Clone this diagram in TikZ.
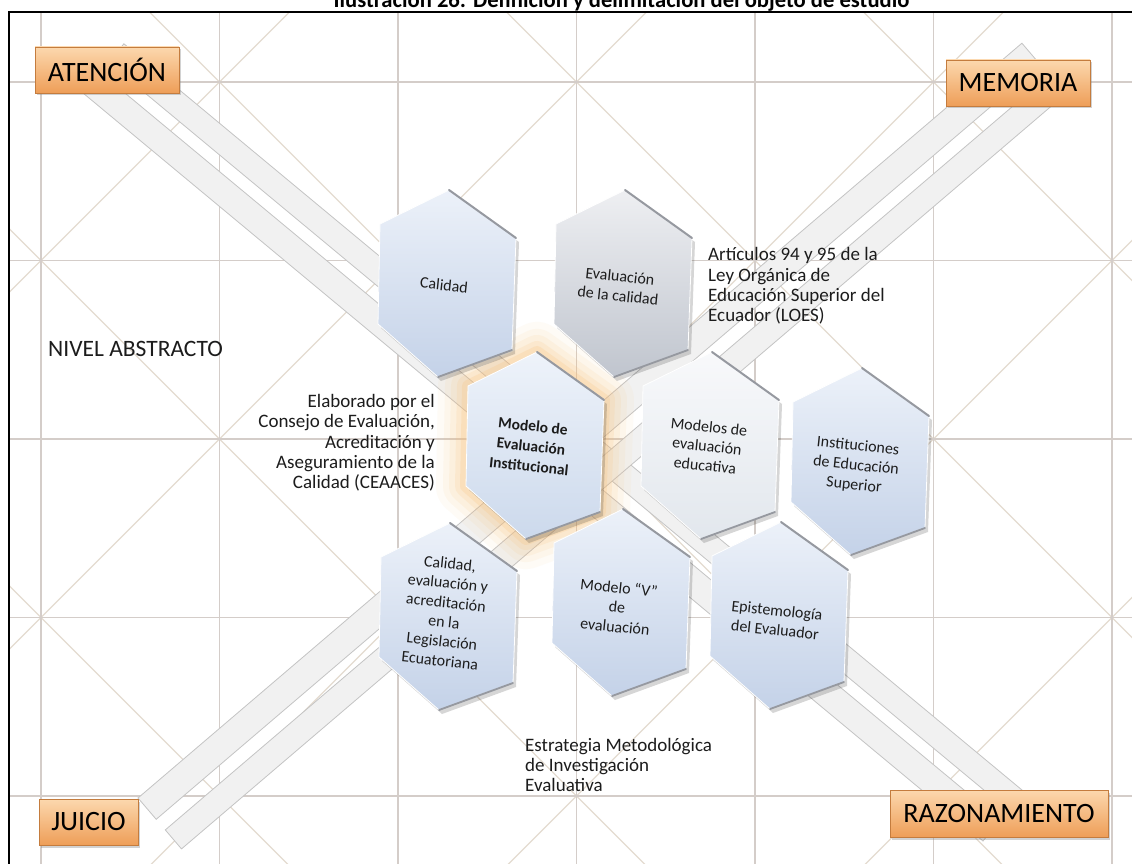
\documentclass[tikz,border=0pt]{standalone}
\usepackage{fontspec}
\newfontfamily\carl{Carlito}
\usetikzlibrary{shadows}
\definecolor{gridc}{RGB}{212,205,201}
\definecolor{diagc}{RGB}{228,219,208}
\definecolor{bandf}{RGB}{241,241,241}
\definecolor{bandd}{RGB}{196,196,196}
\definecolor{labtop}{RGB}{252,216,174}
\definecolor{labbot}{RGB}{238,158,88}
\definecolor{labdraw}{RGB}{196,124,62}
\definecolor{hbtop}{RGB}{236,241,249}
\definecolor{hbbot}{RGB}{196,210,232}
\definecolor{hctop}{RGB}{238,243,250}
\definecolor{hcbot}{RGB}{204,217,236}
\definecolor{hgtop}{RGB}{238,239,242}
\definecolor{hgbot}{RGB}{192,197,206}
\definecolor{hwtop}{RGB}{248,249,251}
\definecolor{hwbot}{RGB}{226,231,237}
\definecolor{hedge}{RGB}{150,153,160}
\definecolor{glowc}{RGB}{250,190,115}
\definecolor{ink}{RGB}{28,28,28}
\newcommand\hexa[3]{%
\begin{scope}[shift={(#1)}]
\fill[black,opacity=0.16] (6,-90)--(73,-42)--(69,70)--(-5,97)--(-65,44)--(-63,-56)--cycle;
\shade[top color=#2,bottom color=#3] (3,-94)--(70,-46)--(66,66)--(-8,93)--(-68,40)--(-66,-60)--cycle;
\draw[white,line width=0.8pt] (-8,93)--(-68,40)--(-66,-60)--(3,-94) (70,-46)--(66,66);
\draw[hedge,line width=2pt,line cap=round] (3,-94)--(70,-46);
\draw[hedge,line width=1.8pt,line cap=round] (66,66)--(-8,93);
\end{scope}}
\begin{document}
\begin{tikzpicture}[x=1pt,y=-1pt,
 gridl/.style={draw=gridc,line width=1.8pt},
 diagl/.style={draw=diagc,line width=1.3pt},
 bandstrip/.style={fill=bandf,draw=bandd,line width=0.8pt,line join=miter},
 lab/.style={draw=labdraw,line width=0.8pt,top color=labtop,bottom color=labbot,
   drop shadow={opacity=0.35,shadow xshift=2pt,shadow yshift=-2.5pt},
   font=\carl\fontsize{28}{30}\selectfont,inner sep=0pt,text=black},
 htext/.style={font=\carl\fontsize{16}{19.5}\selectfont,align=center,rotate=-6,text=ink,inner sep=0pt},
 ftext/.style={font=\carl\fontsize{19}{20.3}\selectfont,text=ink,inner sep=0pt}]
\useasboundingbox (0,0) rectangle (1132,864);
\fill[white] (0,0) rectangle (1132,864);
% grid and diagonals
\begin{scope}
\clip (9,12.5) rectangle (1132,864);
\foreach \c in {-576.5,-219.5,137.5,494.5,851.5}
  \draw[diagl] (\c+12.5-20,12.5-20) -- (\c+864+20,864+20);
\foreach \c in {301.5,658.5,1015.5,1372.5,1729.5}
  \draw[diagl] (\c-12.5+20,12.5-20) -- (\c-864-20,864+20);
\foreach \x in {41,219.5,398,576.5,755,933.5,1112}
  \draw[gridl] (\x,12.5) -- (\x,864);
\foreach \y in {82,260.5,439,617.5,796}
  \draw[gridl] (9,\y) -- (1132,\y);
\end{scope}
% bands
\draw[bandstrip] (83,93) -- (983,841) -- (1000.1,820) -- (100.1,72.4) -- cycle;
\draw[bandstrip] (108.3,62.5) -- (1019.6,819.7) -- (1035.2,801) -- (123.9,43.8) -- cycle;
\draw[bandstrip] (138,798) -- (1021.9,43.2) -- (1040.1,64.5) -- (156.2,819.3) -- cycle;
\draw[bandstrip] (165.3,829.9) -- (1049.2,75.1) -- (1065.4,94.1) -- (181.5,848.9) -- cycle;
% glow of central hexagon
\begin{scope}[shift={(534,446)}]
\foreach \w/\o in {60/0.06,46/0.08,34/0.1,22/0.14,12/0.2}{
 \draw[glowc,line width=\w pt,opacity=\o,line join=round] (3,-94)--(70,-46)--(66,66)--(-8,93)--(-68,40)--(-66,-60)--cycle;}
\end{scope}
% hexagons
\hexa{446,284}{hbtop}{hbbot}
\hexa{622,284}{hgtop}{hgbot}
\hexa{534,446}{hctop}{hcbot}
\hexa{709,446}{hwtop}{hwbot}
\hexa{859,462}{hbtop}{hbbot}
\hexa{447,617}{hbtop}{hbbot}
\hexa{620,603}{hbtop}{hbbot}
\hexa{778,616}{hbtop}{hbbot}
% hexagon texts
\node[htext] (tcal) at (444,285) {Calidad};
\node[htext] (tevc) at (619,286) {Evaluación\\de la calidad};
\node[htext,font=\carl\bfseries\fontsize{15.5}{20}\selectfont] (tmod) at (531,446) {Modelo de\\Evaluación\\Institucional};
\node[htext] (tmev) at (707,446) {Modelos de\\evaluación\\educativa};
\node[htext] (tins) at (856,466) {Instituciones\\de Educación\\Superior};
\node[htext] (tleg) at (445,612) {Calidad,\\evaluación y\\acreditación\\en la\\Legislación\\Ecuatoriana};
\node[htext] (tmv) at (617,607) {Modelo “V”\\de\\evaluación};
\node[htext] (tepi) at (776,620) {Epistemología\\del Evaluador};
% free texts
\node[ftext,anchor=west,align=left] (art) at (708,286) {Artículos 94 y 95 de la\\Ley Orgánica de\\Educación Superior del\\Ecuador (LOES)};
\node[ftext,anchor=east,align=right] (ela) at (435,443) {Elaborado por el\\Consejo de Evaluación,\\Acreditación y\\Aseguramiento de la\\Calidad (CEAACES)};
\node[ftext,anchor=west,align=left] (est) at (525,765) {Estrategia Metodológica\\de Investigación\\Evaluativa};
\node[ftext,anchor=west,font=\carl\fontsize{23.5}{25}\selectfont] (niv) at (48,349) {NIVEL ABSTRACTO};
% corner labels
\node[lab,minimum width=144pt,minimum height=46pt] (aten) at (107,70) {ATENCIÓN};
\node[lab,minimum width=144pt,minimum height=46pt] (memo) at (1018,83) {MEMORIA};
\node[lab,minimum width=99pt,minimum height=46pt] (juic) at (88.5,822) {JUICIO};
\node[lab,minimum width=218pt,minimum height=47pt] (razo) at (999,813.5) {RAZONAMIENTO};
% frame
\draw[black,line width=2pt] (9,866) -- (9,12.5) -- (1134,12.5);
% title (cut by the top of the page)
\node[font=\carl\bfseries\fontsize{22.6}{24}\selectfont,anchor=base,inner sep=0pt,text=black] (title) at (621.5,8) {Ilustración 26: Definición y delimitación del objeto de estudio};
\end{tikzpicture}
\end{document}
